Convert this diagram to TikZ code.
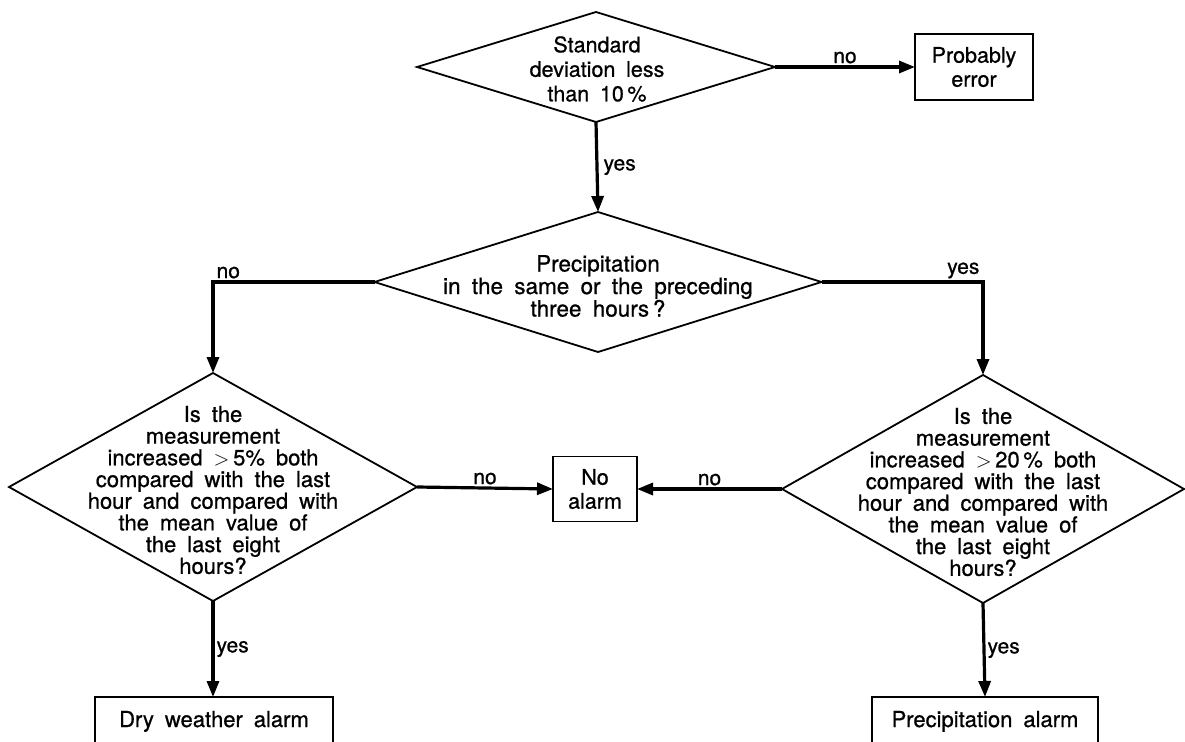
\documentclass[tikz,border=0pt]{standalone}
\usepackage{fontspec}
\setmainfont{TeX Gyre Heros}[WordSpace=1.8, FakeBold=0.8]
\usetikzlibrary{shapes.geometric,arrows.meta}
\begin{document}
\begin{tikzpicture}[x=1pt,y=-1pt,
  decision/.style={diamond, draw, line width=1.8pt, inner sep=0pt, outer sep=0pt},
  qtext/.style={align=center, inner sep=0pt, font=\fontsize{22}{21.7}\selectfont},
  box/.style={draw, line width=1.8pt, inner sep=0pt, outer sep=0pt, align=center,
              font=\fontsize{21.5}{24}\selectfont},
  endbox/.style={box, font=\fontsize{22}{24}\selectfont, anchor=north, text depth=30pt},
  conn/.style={line width=3.2pt, -{Triangle[length=16pt,width=12pt]}},
  lbl/.style={font=\fontsize{21}{21}\selectfont, inner sep=2pt}
]
\useasboundingbox (0,0) rectangle (1185,741);

% decisions
\node[decision, minimum width=358, minimum height=110] (d1) at (596,67) {};
\node[qtext, font=\fontsize{21.5}{24.5}\selectfont] (d1t) at (597,69) {Standard\\deviation less\\than 10\,\%};

\node[decision, minimum width=447, minimum height=140] (d2) at (598,282) {};
\node[qtext, font=\fontsize{22.5}{22.5}\selectfont] (d2t) at (598,286) {Precipitation\\in the same or the preceding\\three hours\,?};

\node[decision, minimum width=408, minimum height=228] (d3) at (213,487) {};
\node[qtext] (d3t) at (213,490) {Is the\\measurement\\increased ${>}$\,5\% both\\compared with the last\\hour and compared with\\the mean value of\\the last eight\\hours?};

\node[decision, minimum width=402, minimum height=228] (d4) at (983,489) {};
\node[qtext] (d4t) at (983,492) {Is the\\measurement\\increased ${>}$\,20\,\% both\\compared with the last\\hour and compared with\\the mean value of\\the last eight\\hours?};

% outcomes
\node[box, minimum width=118, minimum height=66] (pe) at (974,67) {Probably\\error};
\node[box, minimum width=84, minimum height=65] (na) at (595,489) {No\\alarm};
\node[endbox, minimum width=238, minimum height=74] (dw) at (214,697) {Dry weather alarm};
\node[endbox, minimum width=226, minimum height=74] (pa) at (985,697) {Precipitation alarm};

% connectors
\draw[conn] (d1.east) -- node[lbl, above] {no} (pe.west);
\draw[conn] (d1.south) -- node[lbl, right, xshift=3pt] {yes} (d2.north);
\draw[conn] (d2.west) -| node[lbl, pos=0.5, anchor=south west] {no} (d3.north);
\draw[conn] (d2.east) -| node[lbl, pos=0.5, anchor=south east] {yes} (d4.north);
\draw[conn] (d3.east) -- node[lbl, above] {no} (na.west);
\draw[conn] (d4.west) -- node[lbl, above] {no} (na.east);
\draw[conn] (d3.south) -- node[lbl, right] {yes} (d3.south |- dw.north);
\draw[conn] (d4.south) -- node[lbl, right] {yes} (pa.north);
\end{tikzpicture}
\end{document}
